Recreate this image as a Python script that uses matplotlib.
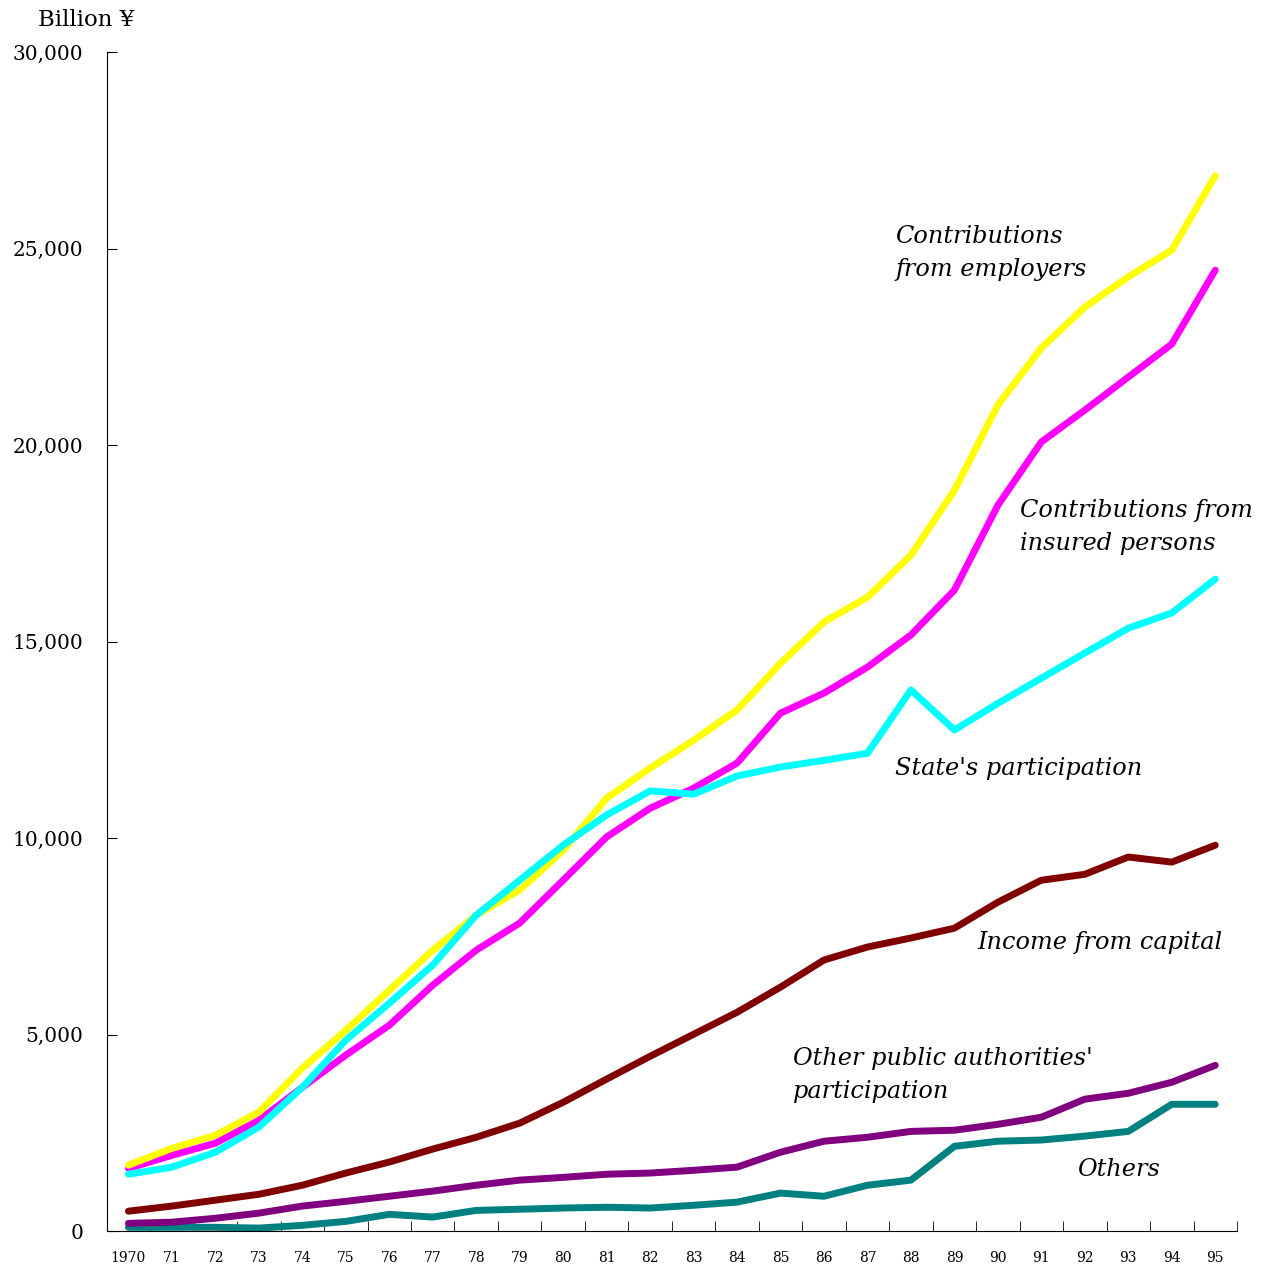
import numpy as np
import matplotlib
matplotlib.use("Agg")
import matplotlib.pyplot as plt
from matplotlib.ticker import FuncFormatter, MultipleLocator

plt.rcParams['font.family'] = ['DejaVu Serif']

years = list(range(1970, 1996))
year_labels = ['1970'] + ['%02d' % (y % 100) for y in years[1:]]

employers = [1680, 2110, 2440, 3030, 4150, 5110, 6130, 7150, 8040, 8680,
             9690, 11020, 11780, 12490, 13260, 14450, 15500, 16130, 17200, 18850,
             21020, 22470, 23510, 24280, 24960, 26850]
insured = [1600, 1930, 2240, 2820, 3660, 4480, 5240, 6260, 7150, 7840,
           8930, 10030, 10760, 11270, 11910, 13180, 13690, 14350, 15170, 16310,
           18470, 20080, 20890, 21730, 22570, 24450]
state = [1450, 1630, 2010, 2650, 3660, 4860, 5800, 6770, 8040, 8930,
         9820, 10590, 11200, 11120, 11580, 11810, 11980, 12160, 13770, 12750,
         13430, 14070, 14710, 15340, 15730, 16590]
capital = [510, 640, 790, 940, 1170, 1480, 1760, 2090, 2390, 2750,
           3280, 3870, 4450, 5010, 5570, 6210, 6900, 7230, 7460, 7710,
           8370, 8930, 9080, 9520, 9390, 9820]
other_public = [200, 230, 330, 460, 640, 760, 890, 1020, 1170, 1300,
                1370, 1450, 1480, 1550, 1630, 2010, 2290, 2390, 2540, 2570,
                2720, 2900, 3360, 3510, 3790, 4220]
others = [100, 100, 100, 80, 150, 250, 430, 360, 530, 560,
          590, 610, 590, 660, 740, 970, 890, 1170, 1300, 2160,
          2290, 2320, 2420, 2540, 3230, 3230]

fig = plt.figure(figsize=(12.7, 12.68), dpi=100)
ax = fig.add_axes([0.084, 0.029, 0.89, 0.93])

lw = 5
ax.plot(years, others, color='#008080', lw=lw, solid_capstyle='round')
ax.plot(years, other_public, color='#800080', lw=lw, solid_capstyle='round')
ax.plot(years, capital, color='#800000', lw=lw, solid_capstyle='round')
ax.plot(years, insured, color='#ff00ff', lw=lw, solid_capstyle='round')
ax.plot(years, employers, color='#ffff00', lw=lw, solid_capstyle='round')
ax.plot(years, state, color='#00ffff', lw=lw, solid_capstyle='round')

ax.set_xlim(1969.5, 1995.5)
ax.set_ylim(0, 30000)

ax.spines['top'].set_visible(False)
ax.spines['right'].set_visible(False)

ax.set_xticks(years)
ax.set_xticklabels(year_labels, fontsize=10)
ax.tick_params(axis='x', which='major', length=0, pad=14)
ax.xaxis.set_minor_locator(MultipleLocator(1, offset=0.5))
ax.tick_params(axis='x', which='minor', direction='in', length=7)

ax.yaxis.set_major_locator(MultipleLocator(5000))
ax.yaxis.set_major_formatter(FuncFormatter(lambda v, p: '{:,.0f}'.format(v)))
ax.tick_params(axis='y', direction='in', length=7, labelsize=14.5, pad=17)

fig.text(0.03, 0.984, 'Billion ¥', fontsize=16.5, va='center', ha='left')

tkw = dict(fontsize=17.3, style='italic', va='center', ha='left',
           linespacing=1.6, transform=fig.transFigure)
W, H = 1270, 1268
def note(px, py, s):
    fig.text(px / W, 1 - py / H, s, **tkw)

note(895, 253, 'Contributions\nfrom employers')
note(1020, 527, 'Contributions from\ninsured persons')
note(895, 769, "State's participation")
note(977, 942, 'Income from capital')
note(793, 1075, "Other public authorities'\nparticipation")
note(1077, 1170, 'Others')

fig.savefig('out.png', dpi=100)
